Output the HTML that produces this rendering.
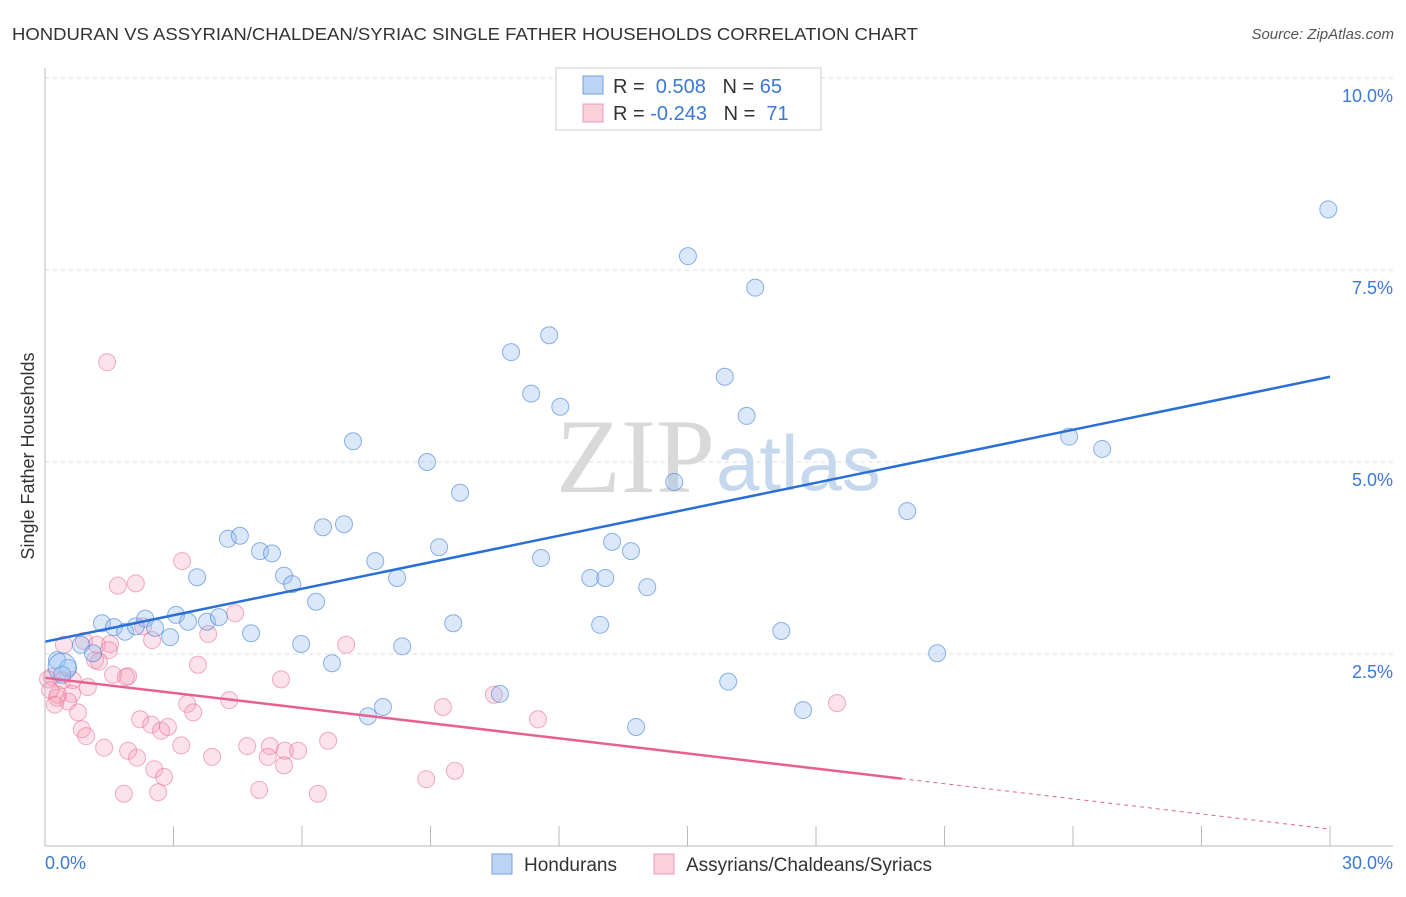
<!DOCTYPE html>
<html><head><meta charset="utf-8"><style>
body{margin:0;background:#fff;font-family:"Liberation Sans",sans-serif}
</style></head><body>
<svg width="1406" height="892" xmlns="http://www.w3.org/2000/svg" font-family="Liberation Sans, sans-serif">
<text x="12" y="40" font-size="17.5" fill="#333" textLength="906" lengthAdjust="spacingAndGlyphs">HONDURAN VS ASSYRIAN/CHALDEAN/SYRIAC SINGLE FATHER HOUSEHOLDS CORRELATION CHART</text>
<text x="1394" y="39" font-size="15" fill="#555" font-style="italic" text-anchor="end">Source: ZipAtlas.com</text>
<g id="grid"></g>
<text x="715" y="492" font-size="106" fill="#d9d9d9" text-anchor="end" font-family="Liberation Serif, serif">ZIP</text>
<text x="716" y="490" font-size="78" fill="#c5d8ee">atlas</text>
<g id="pts"></g>
<g id="lines"></g>
<line x1="45" y1="68" x2="45" y2="846" stroke="#bbb"/>
<line x1="45" y1="846" x2="1393" y2="846" stroke="#bbb"/>
<text x="34" y="456" font-size="18" fill="#333" text-anchor="middle" transform="rotate(-90 34 456)">Single Father Households</text>
<text x="45" y="869" font-size="18" fill="#3b78d8">0.0%</text>
<text x="1393" y="869" font-size="18" fill="#3b78d8" text-anchor="end">30.0%</text>
<g>
<rect x="556" y="68" width="265" height="62" fill="#fff" stroke="#ccc"/>
<rect x="583" y="76" width="20" height="18" fill="#bcd5f5" stroke="#6fa0e0"/>
<rect x="583" y="104" width="20" height="18" fill="#fbd0dd" stroke="#ee9ab4"/>
<text x="613" y="93" font-size="20" fill="#333">R = <tspan fill="#3b78d8">&#160;0.508</tspan>&#160;&#160;&#160;N = <tspan fill="#3b78d8">65</tspan></text>
<text x="613" y="120" font-size="20" fill="#333">R = <tspan fill="#3b78d8">-0.243</tspan>&#160;&#160;&#160;N = <tspan fill="#3b78d8">&#160;71</tspan></text>
</g>
<g>
<rect x="492" y="854" width="20" height="20" fill="#bcd5f5" stroke="#6fa0e0"/>
<text x="524" y="871" font-size="19" fill="#333">Hondurans</text>
<rect x="654" y="854" width="20" height="20" fill="#fbd0dd" stroke="#ee9ab4"/>
<text x="686" y="871" font-size="19" fill="#333">Assyrians/Chaldeans/Syriacs</text>
</g>
</svg>
<script>
const yTicks=[2.5,5.0,7.5,10.0];
const yTickLabels=["2.5%","5.0%","7.5%","10.0%"];
const xTicks=[0,3,6,9,12,15,18,21,24,27,30];
const blueX=[29.96,15.01,16.58,11.77,10.88,11.35,12.03,15.87,16.38,7.19,8.92,9.69,14.69,23.91,24.68,20.13,6.49,6.98,4.27,4.55,5.02,5.30,9.20,7.71,11.58,13.24,13.68,3.55,5.58,5.77,8.22,12.73,13.08,14.06,6.33,1.33,1.61,1.87,2.12,2.34,2.57,2.92,3.06,3.34,3.78,4.06,4.81,9.53,12.96,17.19,5.98,8.34,0.84,1.12,20.83,6.70,0.28,0.54,0.40,10.62,15.95,7.89,7.54,13.80,17.70];
const blueY=[8.29,7.68,7.27,6.65,6.43,5.89,5.72,6.11,5.60,5.27,5.00,4.60,4.74,5.33,5.17,4.36,4.15,4.19,4.00,4.04,3.84,3.81,3.89,3.71,3.75,3.96,3.84,3.50,3.52,3.41,3.49,3.49,3.49,3.37,3.18,2.90,2.85,2.79,2.86,2.96,2.84,2.72,3.01,2.92,2.92,2.98,2.77,2.90,2.88,2.80,2.63,2.60,2.62,2.51,2.51,2.38,2.42,2.32,2.23,1.98,2.14,1.81,1.69,1.55,1.77];
const pinkX=[1.45,3.20,1.70,2.12,4.44,2.29,3.81,2.50,0.44,0.91,1.21,1.52,1.49,1.17,1.26,1.94,1.59,1.89,3.57,5.51,0.16,0.40,0.65,1.00,0.63,0.28,0.54,0.30,4.30,3.32,3.46,9.29,10.48,11.51,18.49,0.77,0.86,0.96,2.22,2.48,2.71,2.87,3.18,1.38,1.94,2.15,3.90,4.72,5.25,5.20,5.60,5.91,5.58,6.61,2.55,2.78,1.84,2.64,5.00,6.37,8.90,9.57,7.03,0.07,0.12,0.23];
const pinkY=[6.30,3.71,3.39,3.42,3.03,2.86,2.76,2.68,2.62,2.67,2.62,2.63,2.55,2.42,2.40,2.21,2.23,2.20,2.36,2.17,2.20,2.16,2.16,2.07,1.98,1.93,1.88,1.97,1.90,1.85,1.74,1.81,1.97,1.65,1.86,1.74,1.52,1.43,1.65,1.58,1.50,1.55,1.31,1.28,1.24,1.15,1.16,1.30,1.30,1.16,1.24,1.24,1.05,1.37,1.00,0.90,0.68,0.70,0.73,0.68,0.87,0.98,2.62,2.17,2.03,1.84];
const blueTrend=[2.66,6.11];
const pinkTrend=[2.19,0.22];
const pinkSolidEnd=20;
const NS="http://www.w3.org/2000/svg";
const sx=v=>45+v/30*1285;
const sy=v=>846-v*76.8;
function mk(tag,attrs,parent){const e=document.createElementNS(NS,tag);for(const k in attrs)e.setAttribute(k,attrs[k]);parent.appendChild(e);return e;}
const grid=document.getElementById('grid');
yTicks.forEach((t,i)=>{
 const l=mk('line',{x1:45,x2:1393,y1:sy(t),y2:sy(t),stroke:'#ddd','stroke-dasharray':'4,4'},grid);
 
 
 const tx=mk('text',{x:1393,y:sy(t)+24,'font-size':18,fill:'#3b78d8','text-anchor':'end'},grid);
 tx.textContent=yTickLabels[i];
 
 
});
xTicks.forEach(t=>{
 const l=mk('line',{x1:sx(t),x2:sx(t),y1:826,y2:846,stroke:'#bbb'},grid);
 
 
});
const pts=document.getElementById('pts');
pinkX.forEach((x,i)=>{
 const c=mk('circle',{cx:sx(x),cy:sy(pinkY[i]),r:8.5,fill:'rgba(244,160,185,0.3)',stroke:'rgba(232,120,155,0.6)','stroke-width':1},pts);
 
 
});
blueX.forEach((x,i)=>{
 const c=mk('circle',{cx:sx(x),cy:sy(blueY[i]),r:8.5,fill:'rgba(150,190,240,0.35)',stroke:'rgba(70,130,215,0.6)','stroke-width':1},pts);
 
 
});
const big=mk('circle',{cx:sx(0.4),cy:sy(2.33),r:14,fill:'rgba(150,190,240,0.35)',stroke:'rgba(70,130,215,0.6)'},pts);


const lines=document.getElementById('lines');
const bl=mk('line',{x1:sx(0),y1:sy(blueTrend[0]),x2:sx(30),y2:sy(blueTrend[1]),stroke:'#2a6fd6','stroke-width':2.5},lines);


const pm=pinkTrend[0]+(pinkTrend[1]-pinkTrend[0])*pinkSolidEnd/30;
const pl=mk('line',{x1:sx(0),y1:sy(pinkTrend[0]),x2:sx(pinkSolidEnd),y2:sy(pm),stroke:'#e8608e','stroke-width':2.5},lines);


const pd=mk('line',{x1:sx(pinkSolidEnd),y1:sy(pm),x2:sx(30),y2:sy(pinkTrend[1]),stroke:'#e8608e','stroke-width':1,'stroke-dasharray':'4,4'},lines);


</script>
</body></html>
